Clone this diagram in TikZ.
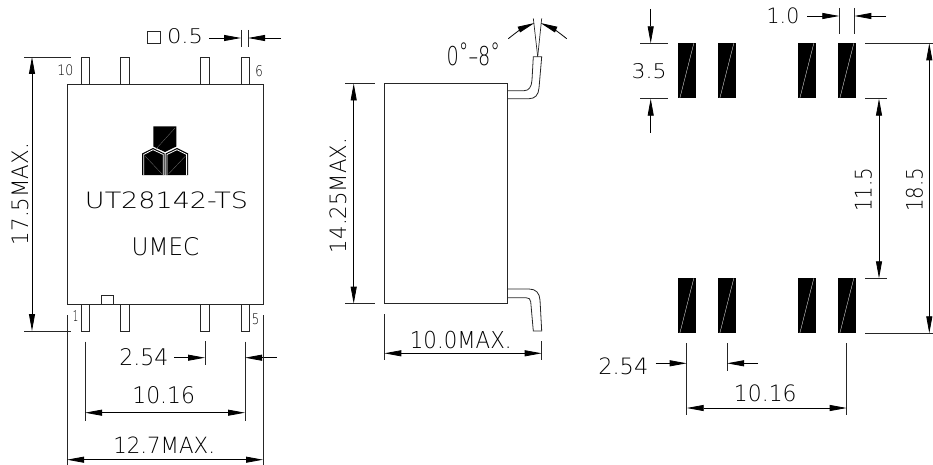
\documentclass[tikz,border=0pt]{standalone}
\usepackage{graphicx}
\usepackage{fontspec}
\setmainfont{DejaVu Sans ExtraLight}
\usetikzlibrary{arrows.meta}
\tikzset{
  x=1pt,y=-1pt,
  thin line/.style={line width=0.7pt,black!85},
  part/.style={line width=0.8pt,black!85},
  dim/.style={line width=0.8pt,black,-{Triangle[length=17pt,width=6pt]}},
  dimboth/.style={line width=0.8pt,black,{Triangle[length=17pt,width=6pt]}-{Triangle[length=17pt,width=6pt]}},
  lab/.style={inner sep=0pt,font=\fontsize{21}{21}\selectfont},
  pad/.style={fill=black},
  padline/.style={white,line width=0.3pt},
}
% text fitted to the measured width and height
\newcommand{\fit}[3]{\resizebox{#1pt}{#2pt}{#3}}
\newcommand{\footprint}[2]{%
  \fill[pad] (#1,#2) rectangle ++(17.2,55);
  \draw[padline] (#1+1.5,#2+55) -- (#1+15.5,#2);}
\begin{document}
\begin{tikzpicture}
\useasboundingbox (0,0) rectangle (933,465);
% --- front view
\draw[part] (67,84) rectangle (263,304);
\foreach \px in {81,120.5,200.5,241}{
  \draw[part] (\px,84) -- (\px,57) -- (\px+8.5,57) -- (\px+8.5,84);
  \draw[part] (\px,304) -- (\px,331) -- (\px+8.5,331) -- (\px+8.5,304);
}
\draw[part] (101.5,304) -- (101.5,295) -- (113,295) -- (113,304);
% logo
\fill[black] (153.3,126.3) -- (176.3,126.3) -- (176.3,146.5) -- (165,152) -- (153.3,146.5) -- cycle;
\fill[black] (142.2,153.5) -- (153,148) -- (164.6,153.5) -- (164.6,175) -- (142.2,175) -- cycle;
\fill[black] (165.6,153.5) -- (177,148) -- (188.2,153.5) -- (188.2,175) -- (165.6,175) -- cycle;
\draw[white,line width=0.8pt] (143.8,175) -- (143.8,154.5) -- (153,149.7) -- (163.2,154.5) -- (163.2,175);
\draw[white,line width=0.8pt] (167,175) -- (167,154.5) -- (177,149.7) -- (186.6,154.5) -- (186.6,175);
\draw[black!55,line width=0.3pt] (156,149) -- (175,128);
\draw[black!55,line width=0.3pt] (145,156) -- (162,174);
\draw[black!55,line width=0.3pt] (168.5,174) -- (185.5,156);
\node[lab] (part) at (166.5,200) {\fit{163}{16.7}{UT28142-TS}};
\node[lab] (brand) at (165.5,246.5) {\fit{67.6}{18}{UMEC}};
\node[lab] (p10) at (65.3,70.3) {\fit{16}{10.7}{10}};
\node[lab] (p6) at (259,70.7) {\fit{7.5}{11}{6}};
\node[lab] (p1) at (75.5,316.3) {\fit{5.5}{10.7}{1}};
\node[lab] (p5) at (255.5,319.7) {\fit{7.5}{10.7}{5}};
% 17.5
\draw[thin line] (24,57) -- (71,57);
\draw[thin line] (24,331) -- (71,331);
\coordinate (d175a) at (32,57); \coordinate (d175b) at (32,331);
\draw[dimboth] (d175a) -- (d175b);
\node[lab,rotate=90] (t175) at (20,194) {\fit{102}{16.5}{17.5MAX.}};
% 0.5
\draw[part] (147.5,31) rectangle (160,43);
\node[lab] (t05) at (185,36.5) {\fit{36}{15}{0.5}};
\draw[thin line] (241,30) -- (241,47);
\draw[thin line] (248,30) -- (248,47);
\draw[dim] (209,38) -- (241,38);
\draw[dim] (281,38) -- (248,38);
% bottom dims front
\draw[thin line] (85,341.7) -- (85,421);
\draw[thin line] (245,341.7) -- (245,421);
\draw[thin line] (205,341) -- (205,365);
\draw[dim] (174,357.7) -- (205,357.7);
\draw[dim] (276.7,357.7) -- (245,357.7);
\node[lab] (t254a) at (143.8,357) {\fit{49}{17}{2.54}};
\draw[dimboth] (85,412.7) -- (245,412.7);
\node[lab] (t1016a) at (163.7,395.3) {\fit{62.7}{17}{10.16}};
\draw[thin line] (67,315) -- (67,465);
\draw[thin line] (263,315) -- (263,465);
\draw[dimboth] (67,459.7) -- (263,459.7);
\node[lab] (t127) at (164.2,445) {\fit{101.7}{16.6}{12.7MAX.}};
% --- side view
\draw[part] (384.3,83.5) rectangle (507.3,303.7);
\draw[part] (507.3,90.7) -- (524,90.7) .. controls (529,90.7) and (531.5,87) .. (532,80) -- (533.3,56.7) -- (541.7,56.7) -- (539,88) .. controls (538.5,95) and (535,98.7) .. (529,98.7) -- (507.3,98.7);
\draw[part] (507.3,289) -- (529,289) .. controls (536,289) and (539.5,293) .. (540,300) -- (541.7,331) -- (533.3,331) -- (530.7,301.7) .. controls (530.3,299) and (529,297.7) .. (526,297.7) -- (507.3,297.7);
\draw[thin line] (537.7,56.7) -- (533.3,18.3);
\draw[thin line] (537.7,56.7) -- (541.7,18.3);
\draw[dim] (508.3,38.7) to[bend left=8] (534.5,23);
\draw[dim] (566.7,38.7) to[bend right=8] (540.5,23);
\node[lab] (tang) at (473.3,54.5) {\fit{53.3}{22.4}{0\raisebox{3pt}{°}–8\raisebox{3pt}{°}}};
\draw[thin line] (345,83.5) -- (375,83.5);
\draw[thin line] (345,303.7) -- (375,303.7);
\draw[dimboth] (353.7,83.5) -- (353.7,303.7);
\node[lab,rotate=90] (t1425) at (338.3,195.5) {\fit{115}{16.7}{14.25MAX.}};
\draw[thin line] (384.3,314) -- (384.3,360);
\draw[thin line] (541.7,341) -- (541.7,360);
\draw[dimboth] (384.3,353.3) -- (541.7,353.3);
\node[lab] (t100) at (460.8,339.7) {\fit{101.7}{17.3}{10.0MAX.}};
% --- footprint
\foreach \px in {678.3,718.3,798.3,838.3}{
  \footprint{\px}{43.3}
  \footprint{\px}{278.3}
}
\draw[thin line] (640,43.3) -- (668,43.3);
\draw[thin line] (640,98.7) -- (668,98.7);
\draw[dim] (650.7,9) -- (650.7,43.3);
\draw[dim] (650.7,133) -- (650.7,98.7);
\node[lab] (t35) at (649.2,70.8) {\fit{35}{15}{3.5}};
\node[lab] (t10) at (783,16.2) {\fit{32.6}{15.7}{1.0}};
\draw[thin line] (839.3,8) -- (839.3,33.7);
\draw[thin line] (854.3,8) -- (854.3,33.7);
\draw[dim] (807.3,16) -- (839.3,16);
\draw[dim] (886,16) -- (854.3,16);
\draw[thin line] (865,43.3) -- (933,43.3);
\draw[thin line] (865,333.3) -- (933,333.3);
\draw[dimboth] (929.3,43.3) -- (929.3,333.3);
\node[lab,rotate=90] (t185) at (914.3,190) {\fit{44}{16.7}{18.5}};
\draw[thin line] (865,98.7) -- (887,98.7);
\draw[thin line] (865,278.3) -- (887,278.3);
\draw[dimboth] (879,98.7) -- (879,278.3);
\node[lab,rotate=90] (t115) at (863.3,190) {\fit{44}{16.7}{11.5}};
\node[lab] (t254b) at (623.3,366.7) {\fit{50}{16.7}{2.54}};
\draw[thin line] (686.7,343) -- (686.7,415);
\draw[thin line] (846.7,343) -- (846.7,415);
\draw[thin line] (727,343) -- (727,370.7);
\draw[dim] (655.7,363.3) -- (686.7,363.3);
\draw[dim] (758,363.3) -- (727,363.3);
\draw[dimboth] (686.7,408) -- (846.7,408);
\node[lab] (t1016b) at (765.3,393.3) {\fit{62.7}{16.7}{10.16}};
\end{tikzpicture}
\end{document}
